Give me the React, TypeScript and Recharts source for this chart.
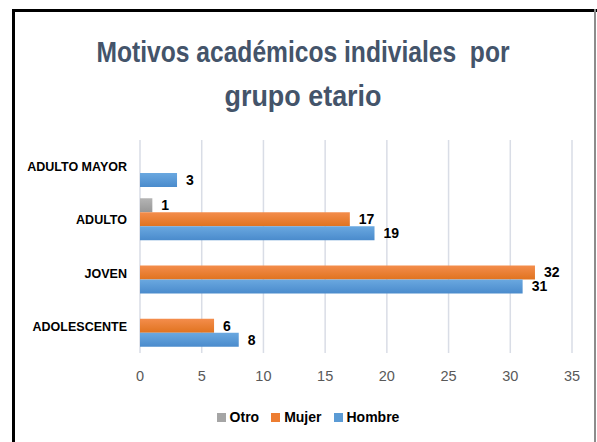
import React from "react";
import { BarChart, Bar, XAxis, YAxis, CartesianGrid, LabelList } from "recharts";

const categories = ["ADULTO MAYOR", "ADULTO", "JOVEN", "ADOLESCENTE"];
const otro: (number | null)[] = [null, 1, null, null];
const mujer: (number | null)[] = [null, 17, 32, 6];
const hombre: (number | null)[] = [3, 19, 31, 8];
const xTicks = [0, 5, 10, 15, 20, 25, 30, 35];
const titleLines = ["Motivos académicos indiviales  por", "grupo etario"];
const seriesNames = ["Otro", "Mujer", "Hombre"];
const seriesColors = ["#a5a5a5", "#ed7d31", "#5b9bd5"];

const data = categories.map((c, i) => ({
  name: c,
  Otro: otro[i],
  Mujer: mujer[i],
  Hombre: hombre[i],
}));

const FONT = "Liberation Sans, Arial, sans-serif";
const labelStyle = { fontFamily: FONT, fontWeight: 700, fontSize: 14, fill: "#000" };

export default function App() {
  return (
    <div style={{ position: "absolute", left: 0, top: 0, width: 597, height: 442, background: "#fff", overflow: "hidden" }}>
      <div style={{ position: "absolute", left: 12, top: 9, width: 3, height: 433, background: "#000" }} />
      <div style={{ position: "absolute", left: 12, top: 9, width: 585, height: 3, background: "#000" }} />
      <div style={{ position: "absolute", left: 594, top: 9, width: 2, height: 433, background: "#8c8c8c" }} />
      <svg style={{ position: "absolute", left: 0, top: 0 }} width={597} height={130}>
        <text x={303} y={62} textAnchor="middle" textLength={413} lengthAdjust="spacingAndGlyphs" style={{ whiteSpace: "pre" }}
          fontFamily={FONT} fontWeight={700} fontSize={29} fill="#44546a">{titleLines[0]}</text>
        <text x={303} y={106} textAnchor="middle" textLength={157} lengthAdjust="spacingAndGlyphs"
          fontFamily={FONT} fontWeight={700} fontSize={29} fill="#44546a">{titleLines[1]}</text>
      </svg>
      <div style={{ position: "absolute", left: 0, top: 0 }}>
        <BarChart width={597} height={442} data={data} layout="vertical"
          margin={{ top: 140, right: 25, bottom: 30, left: 12 }} barCategoryGap={5} barGap={0}>
          <defs>
            <linearGradient id="gBlue" x1="0" y1="0" x2="0" y2="1">
              <stop offset="0%" stopColor="#6aa8e0" />
              <stop offset="100%" stopColor="#4a8bcc" />
            </linearGradient>
            <linearGradient id="gOrange" x1="0" y1="0" x2="0" y2="1">
              <stop offset="0%" stopColor="#f48d4c" />
              <stop offset="100%" stopColor="#e0731f" />
            </linearGradient>
            <linearGradient id="gGray" x1="0" y1="0" x2="0" y2="1">
              <stop offset="0%" stopColor="#b4b4b4" />
              <stop offset="100%" stopColor="#979797" />
            </linearGradient>
          </defs>
          <CartesianGrid horizontal={false} stroke="#d9dde6" strokeWidth={1.5} />
          <XAxis type="number" domain={[0, 35]} ticks={xTicks} axisLine={false} tickLine={false} tickSize={0} tickMargin={18} height={59}
            tick={{ fill: "#595959", fontSize: 14.5, fontFamily: FONT }} interval={0} />
          <YAxis type="category" dataKey="name" width={128} axisLine={false} tickLine={false} tickSize={0} tickMargin={13}
            tick={{ fill: "#000", fontSize: 12.5, fontWeight: 700, fontFamily: FONT }} interval={0} />
          <Bar dataKey="Otro" fill="url(#gGray)" isAnimationActive={false}>
            <LabelList dataKey="Otro" position="right" offset={9} style={labelStyle} />
          </Bar>
          <Bar dataKey="Mujer" fill="url(#gOrange)" isAnimationActive={false}>
            <LabelList dataKey="Mujer" position="right" offset={9} style={labelStyle} />
          </Bar>
          <Bar dataKey="Hombre" fill="url(#gBlue)" isAnimationActive={false}>
            <LabelList dataKey="Hombre" position="right" offset={9} style={labelStyle} />
          </Bar>
        </BarChart>
      </div>
      <div style={{ position: "absolute", left: 0, top: 409, width: 628, display: "flex", justifyContent: "center", alignItems: "center", fontFamily: FONT, fontWeight: 700, fontSize: 14, color: "#000" }}>
        {seriesNames.map((n, i) => (
          <div key={n} style={{ display: "flex", alignItems: "center", marginRight: 12 }}>
            <div style={{ width: 9, height: 9, background: seriesColors[i], marginRight: 4 }} />
            <span>{n}</span>
          </div>
        ))}
      </div>
    </div>
  );
}
